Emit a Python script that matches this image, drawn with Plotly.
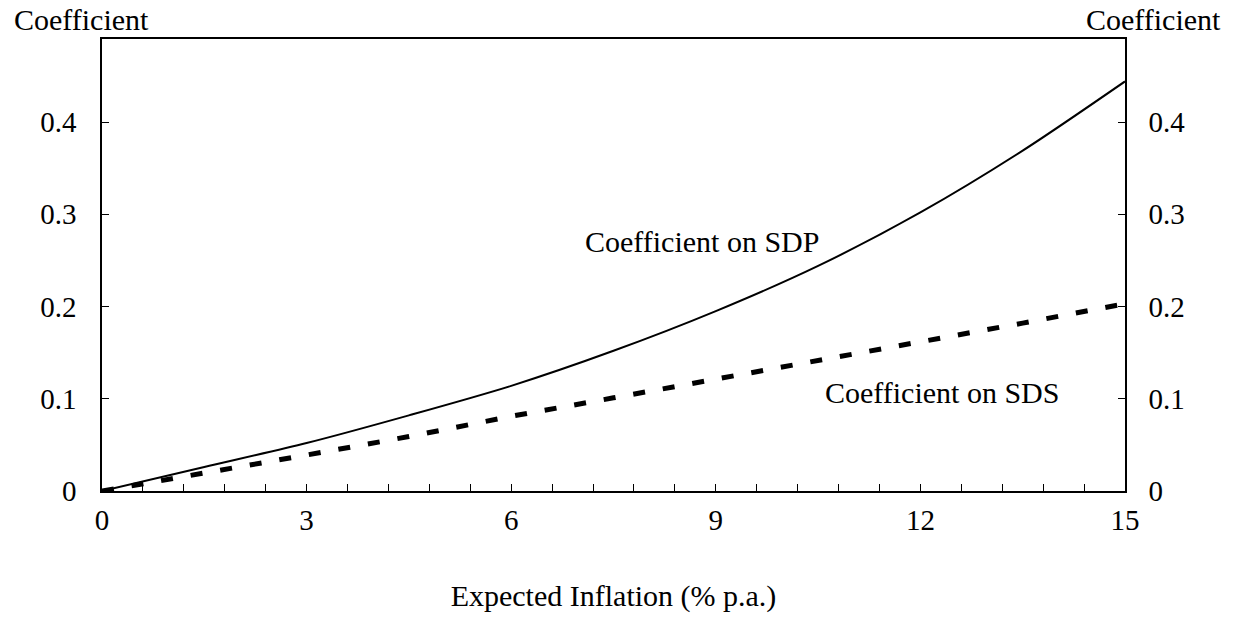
import plotly.graph_objects as go

inflation = [0, 1.5, 3, 4.5, 6, 7.5, 9, 10.5, 12, 13.5, 15]
coef_sdp = [0, 0.026, 0.052, 0.082, 0.114, 0.152, 0.195, 0.244, 0.302, 0.369, 0.444]
coef_sds = [0, 0.019, 0.039, 0.059, 0.081, 0.101, 0.121, 0.141, 0.161, 0.182, 0.203]

FONT = "Liberation Serif"
FS = 29
FT = 30

fig = go.Figure()
fig.add_trace(go.Scatter(x=inflation, y=coef_sdp, mode="lines",
                         line=dict(color="black", width=2, shape="spline", smoothing=0.8),
                         showlegend=False))
fig.add_trace(go.Scatter(x=inflation, y=coef_sds, mode="lines",
                         line=dict(color="black", width=5, dash="12px,18px"),
                         showlegend=False))
fig.add_trace(go.Scatter(x=[0], y=[0], yaxis="y2", mode="markers",
                         marker=dict(opacity=0), showlegend=False, hoverinfo="skip"))

axis_common = dict(showgrid=False, zeroline=False, showline=True, linecolor="black",
                   linewidth=1.5, ticks="inside", ticklen=7, tickcolor="black",
                   tickwidth=1, tickfont=dict(family=FONT, size=FS, color="black"))

fig.update_layout(
    width=1236, height=619,
    margin=dict(l=102, r=111, t=39, b=128),
    paper_bgcolor="white", plot_bgcolor="white",
    font=dict(family=FONT, size=FS, color="black"),
    xaxis=dict(range=[0, 15], dtick=3, tick0=0, mirror=True,
               minor=dict(dtick=0.6, tick0=0, ticks="inside", ticklen=7, tickcolor="black"),
               ticklabelstandoff=2,
               title=dict(text="Expected Inflation (% p.a.)", standoff=50,
                          font=dict(family=FONT, size=FT)),
               **axis_common),
    yaxis=dict(range=[0, 0.49], dtick=0.1, tick0=0,
               ticklabelstandoff=18, **axis_common),
    yaxis2=dict(range=[0, 0.49], dtick=0.1, tick0=0, overlaying="y", side="right",
                ticklabelstandoff=16, **axis_common),
    annotations=[
        dict(text="Coefficient", xref="paper", yref="paper", x=-0.088, y=1.0,
             yshift=20, xanchor="left", yanchor="middle", showarrow=False,
             font=dict(family=FONT, size=FT)),
        dict(text="Coefficient", xref="paper", yref="paper", x=1.096, y=1.0,
             yshift=20, xanchor="right", yanchor="middle", showarrow=False,
             font=dict(family=FONT, size=FT)),
        dict(text="Coefficient on SDP", x=7.05, y=0.2707, xanchor="left",
             yanchor="middle", showarrow=False, font=dict(family=FONT, size=FT)),
        dict(text="Coefficient on SDS", x=10.57, y=0.1066, xanchor="left",
             yanchor="middle", showarrow=False, font=dict(family=FONT, size=FT)),
    ],
)

fig.write_html("out.html")
